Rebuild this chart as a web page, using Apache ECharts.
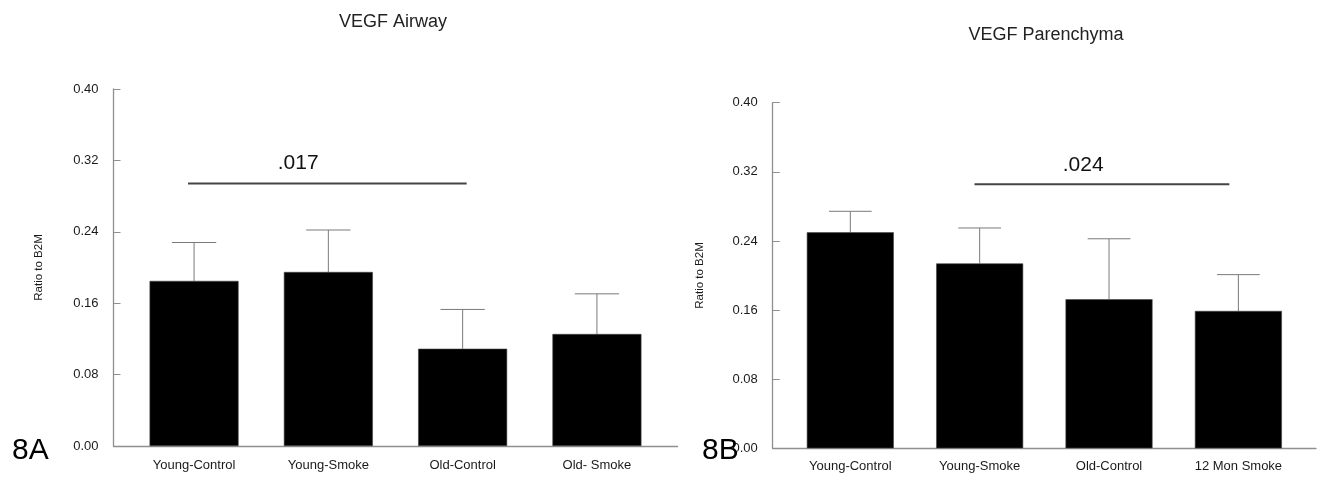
<!DOCTYPE html>
<html>
<head>
<meta charset="utf-8">
<script src="https://cdn.jsdelivr.net/npm/echarts@6/dist/echarts.min.js"></script>
<style>
html,body{margin:0;padding:0;background:#fff;}
#chart{width:1319px;height:478px;}
</style>
</head>
<body>
<div id="chart"></div>
<script>
// ---- Data ----
const categoriesA = ['Young-Control', 'Young-Smoke', 'Old-Control', 'Old- Smoke'];
const meansA = [0.185, 0.195, 0.109, 0.1255];
const errorsA = [0.043, 0.047, 0.044, 0.045];
const sigA = { from: -0.045, to: 2.03, y: 0.294, textX: 0.775, textY: 0.317, text: '.017' };

const categoriesB = ['Young-Control', 'Young-Smoke', 'Old-Control', '12 Mon Smoke'];
const meansB = [0.250, 0.214, 0.1725, 0.159];
const errorsB = [0.0243, 0.041, 0.070, 0.042];
const sigB = { from: 0.96, to: 2.93, y: 0.3056, textX: 1.80, textY: 0.328, text: '.024' };

const yTicks = [0, 0.08, 0.16, 0.24, 0.32, 0.40];
const titles = ['VEGF Airway', 'VEGF Parenchyma'];
const panelLabels = ['8A', '8B'];
const yName = 'Ratio to B2M';

// ---- Chart ----
const FONT = '"Liberation Sans", Arial, Helvetica, sans-serif';
const chart = echarts.init(document.getElementById('chart'), null, { renderer: 'canvas' });

function xAxisFor(gridIndex, cats, margin) {
  return {
    type: 'value', gridIndex, min: -0.6, max: 3.6,
    splitLine: { show: false },
    axisTick: { show: false },
    axisLine: { show: true, onZero: false, lineStyle: { color: '#8f8f8f', width: 1.3 } },
    axisLabel: {
      margin, fontSize: 13, fontFamily: FONT, color: '#1a1a1a',
      showMinLabel: true, showMaxLabel: true,
      formatter: v => {
        const r = Math.round(v);
        return Math.abs(v - r) < 1e-6 && r >= 0 && r < cats.length ? cats[r] : '';
      }
    }
  };
}
function yAxisFor(gridIndex, nameGap) {
  return {
    type: 'value', gridIndex, min: yTicks[0], max: yTicks[yTicks.length - 1],
    interval: yTicks[1] - yTicks[0],
    name: yName, nameLocation: 'middle', nameGap,
    nameTextStyle: { fontSize: 11.5, fontFamily: FONT, color: '#1a1a1a' },
    splitLine: { show: false },
    axisLine: { show: true, onZero: false, lineStyle: { color: '#8f8f8f', width: 1.3 } },
    axisTick: { show: true, inside: true, length: 7, lineStyle: { color: '#8f8f8f', width: 1 } },
    axisLabel: { margin: 15, fontSize: 13, fontFamily: FONT, color: '#1a1a1a', formatter: v => v.toFixed(2) }
  };
}
function barSeries(idx, means) {
  return {
    type: 'bar', xAxisIndex: idx, yAxisIndex: idx,
    data: means.map((m, i) => [i, m]),
    barWidth: idx === 0 ? 89 : 87,
    itemStyle: { color: '#000', borderColor: '#444', borderWidth: 0.6 },
    z: 2, silent: true
  };
}
function errSeries(idx, means, errs) {
  return {
    type: 'custom', xAxisIndex: idx, yAxisIndex: idx, silent: true, z: 1,
    data: means.map((m, i) => [i, m, m + errs[i]]),
    renderItem: (params, api) => {
      const x = api.value(0);
      const p0 = api.coord([x, api.value(1)]);
      const p1 = api.coord([x, api.value(2)]);
      const half = api.size([0.33, 0])[0] / 2;
      const st = { stroke: '#7a7a7a', lineWidth: 1 };
      return {
        type: 'group', children: [
          { type: 'line', shape: { x1: p0[0], y1: p0[1], x2: p1[0], y2: p1[1] }, style: st },
          { type: 'line', shape: { x1: p1[0] - half, y1: p1[1], x2: p1[0] + half, y2: p1[1] }, style: st }
        ]
      };
    }
  };
}
function sigSeries(idx, sig) {
  return {
    type: 'custom', xAxisIndex: idx, yAxisIndex: idx, silent: true, z: 3,
    data: [[sig.from, sig.to, sig.y, sig.textX, sig.textY]],
    renderItem: (params, api) => {
      const a = api.coord([api.value(0), api.value(2)]);
      const b = api.coord([api.value(1), api.value(2)]);
      const t = api.coord([api.value(3), api.value(4)]);
      return {
        type: 'group', children: [
          { type: 'line', shape: { x1: a[0], y1: a[1], x2: b[0], y2: b[1] }, style: { stroke: '#444', lineWidth: 2 } },
          { type: 'text', x: t[0], y: t[1], style: { text: sig.text, font: '21px ' + FONT, fill: '#111', textAlign: 'center', textVerticalAlign: 'middle' } }
        ]
      };
    }
  };
}

const titleStyle = { fontSize: 18, fontWeight: 'normal', fontFamily: FONT, color: '#222' };
const panelStyle = { fontSize: 30, fontWeight: 'normal', fontFamily: FONT, color: '#000' };
const option = {
  animation: false,
  backgroundColor: '#fff',
  title: [
    { text: titles[0], left: 393, top: 13.5, padding: 0, textAlign: 'center', textStyle: titleStyle },
    { text: titles[1], left: 1046, top: 26, padding: 0, textAlign: 'center', textStyle: titleStyle },
    { text: panelLabels[0], left: 12, top: 436, padding: 0, textStyle: panelStyle },
    { text: panelLabels[1], left: 702, top: 436, padding: 0, textStyle: panelStyle }
  ],
  grid: [
    { left: 113.5, top: 89, right: 641.5, bottom: 32, containLabel: false },
    { left: 772.7, top: 102.7, right: 0, bottom: 29.7, containLabel: false }
  ],
  xAxis: [xAxisFor(0, categoriesA, 13), xAxisFor(1, categoriesB, 12)],
  yAxis: [yAxisFor(0, 69), yAxisFor(1, 67)],
  series: [
    barSeries(0, meansA), errSeries(0, meansA, errorsA), sigSeries(0, sigA),
    barSeries(1, meansB), errSeries(1, meansB, errorsB), sigSeries(1, sigB)
  ]
};
chart.setOption(option);
</script>
</body>
</html>
